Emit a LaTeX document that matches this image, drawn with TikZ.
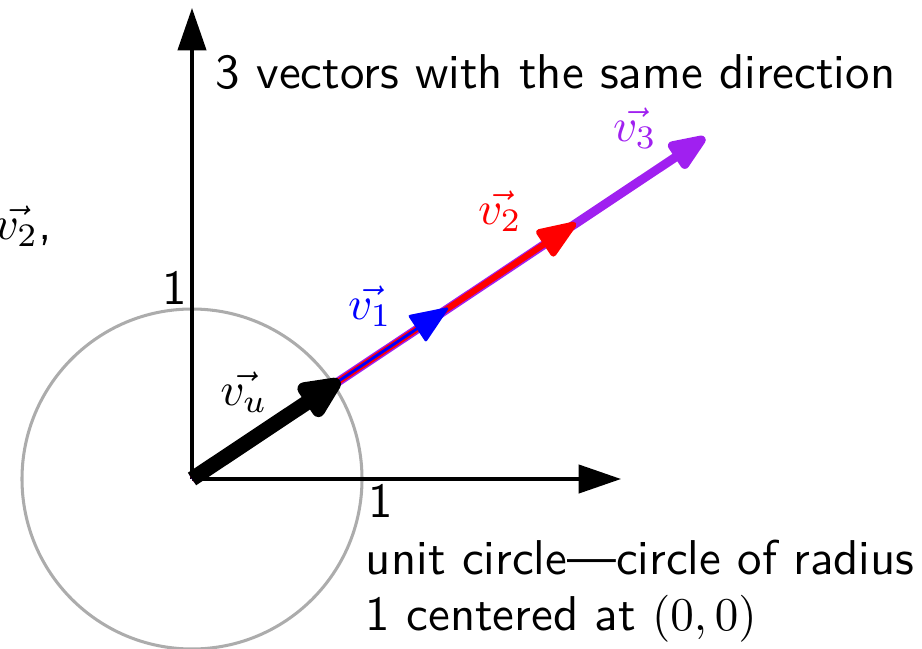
\documentclass[tikz,border=0pt]{standalone}
\usetikzlibrary{arrows.meta}
\definecolor{vpurple}{HTML}{A020F0}
\begin{document}
\begin{tikzpicture}[x=0.21277pt,y=-0.21277pt,
  lbl/.style={inner sep=0pt, font=\sffamily\fontsize{10.4}{12.5}\selectfont},
  axis/.style={line width=0.75pt, -{Triangle[length=9pt,width=6pt]}},
  vecu/.style={line width=3.2pt, -{Triangle[length=11pt,width=9pt,round]}},
  vecone/.style={blue, line width=0.6pt, -{Triangle[length=8.5pt,width=6.8pt,round]}},
  vectwo/.style={red, line width=1.3pt, -{Triangle[length=9.5pt,width=7pt,round]}},
  vecthree/.style={vpurple, line width=1.9pt, -{Triangle[length=9.5pt,width=7pt,round]}}]
\useasboundingbox (0,0) rectangle (922,648);
\coordinate (O) at (192,479);
\coordinate (Xe) at (621,479);
\coordinate (Ye) at (192,8);
\coordinate (U) at (340,380.5);
\coordinate (V1) at (448,308);
\coordinate (V2) at (576,223);
\coordinate (V3) at (705,137.5);
\draw[gray!65, line width=0.65pt] (O) circle[radius=170];
\draw[axis] (O) -- (Xe);
\draw[axis] (O) -- (Ye);
\draw[vecthree] (O) -- (V3);
\draw[vectwo] (O) -- (V2);
\draw[vecone] (O) -- (V1);
\draw[vecu] (O) -- (U);
\node[lbl] (lu) at (244,392) {$\vec{v_u}$};
\node[lbl, blue] (l1) at (370,306) {$\vec{v_1}$};
\node[lbl, red] (l2) at (500,211) {$\vec{v_2}$};
\node[lbl, vpurple] (l3) at (635,128) {$\vec{v_3}$};
\node[lbl, anchor=east] (lv) at (53,226) {$\vec{v_2}$,};
\node[lbl] (one y) at (175,288) {1};
\node[lbl] (one x) at (381,501) {1};
\node[lbl, anchor=base west] (title) at (215,88) {3 vectors with the same direction};
\node[lbl, anchor=base west] (uc1) at (365,574) {unit circle\textemdash circle of radius};
\node[lbl, anchor=base west] (uc2) at (365,630) {1 centered at $(0,0)$};
\end{tikzpicture}
\end{document}
